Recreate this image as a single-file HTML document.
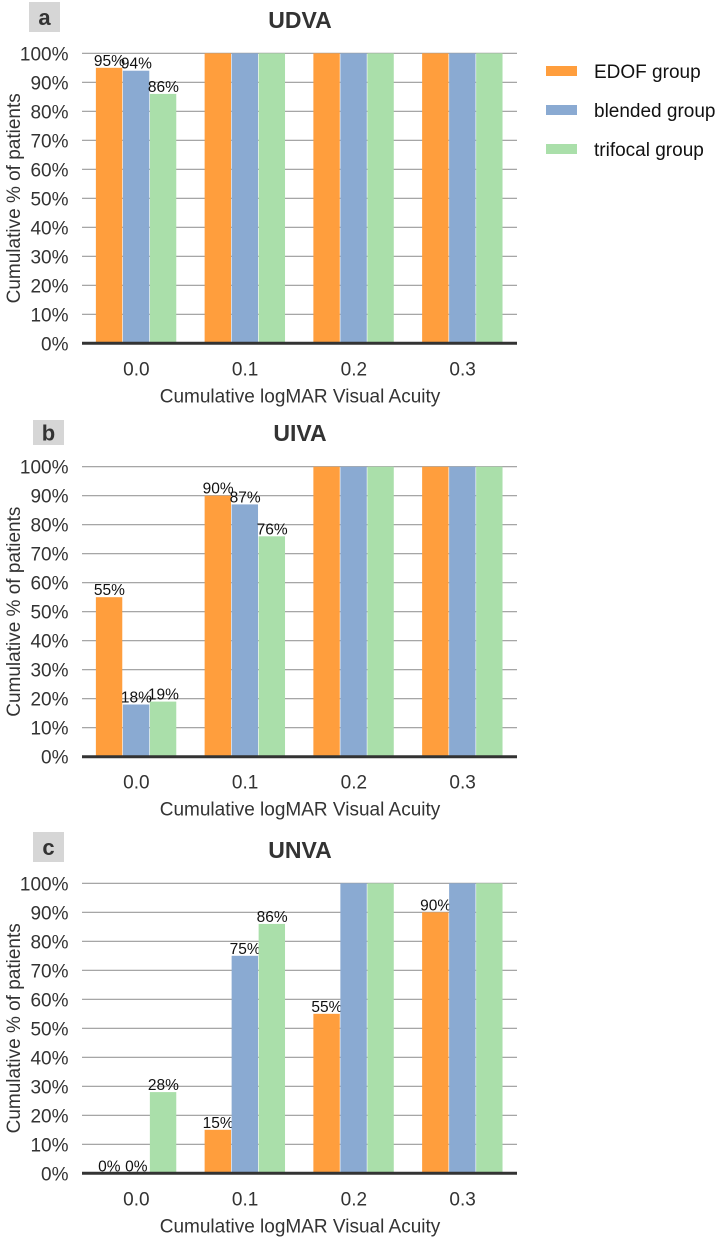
<!DOCTYPE html>
<html><head><meta charset="utf-8"><style>
body{margin:0;background:#fff;width:719px;height:1240px;overflow:hidden;font-family:"Liberation Sans",sans-serif}
</style></head><body>
<svg id="svg" width="719" height="1240" xmlns="http://www.w3.org/2000/svg" font-family="Liberation Sans, sans-serif">
<g>
<rect x="546" y="66" width="31" height="10" fill="#FF9E3D"/>
<text x="594" y="78" font-size="19" fill="#111">EDOF group</text>
<rect x="546" y="105" width="31" height="10" fill="#8AAAD2"/>
<text x="594" y="117" font-size="19" fill="#111">blended group</text>
<rect x="546" y="144" width="31" height="10" fill="#AADFAA"/>
<text x="594" y="156" font-size="19" fill="#111">trifocal group</text>
</g>
</svg>
<script>
const categories=["0.0","0.1","0.2","0.3"];
const seriesNames=["EDOF group","blended group","trifocal group"];
const udvaEdof=[95,100,100,100];
const udvaBlended=[94,100,100,100];
const udvaTrifocal=[86,100,100,100];
const uivaEdof=[55,90,100,100];
const uivaBlended=[18,87,100,100];
const uivaTrifocal=[19,76,100,100];
const unvaEdof=[0,15,55,90];
const unvaBlended=[0,75,100,100];
const unvaTrifocal=[28,86,100,100];
const yTicks=[0,10,20,30,40,50,60,70,80,90,100];
const colors=["#FF9E3D","#8AAAD2","#AADFAA"];
const NS="http://www.w3.org/2000/svg";
const svg=document.getElementById('svg');
function mk(tag,attrs,parent,text){const e=document.createElementNS(NS,tag);for(const k in attrs)e.setAttribute(k,attrs[k]);if(text!==undefined)e.textContent=text;(parent||svg).appendChild(e);return e;}
const panels=[
 {id:"a",title:"UDVA",top:53.3,bottom:343.3,box:[29,2,31,30],titleY:28,data:[udvaEdof,udvaBlended,udvaTrifocal]},
 {id:"b",title:"UIVA",top:466.7,bottom:756.7,box:[33,420,31,25],titleY:441,data:[uivaEdof,uivaBlended,uivaTrifocal]},
 {id:"c",title:"UNVA",top:883.3,bottom:1173.3,box:[33,832,31,30],titleY:858,data:[unvaEdof,unvaBlended,unvaTrifocal]}
];
const L=82,R=517,catW=(R-L)/categories.length,barW=27;
panels.forEach(p=>{
 const g=mk('g',{});
 
 
 const y=v=>p.bottom-(v/100)*(p.bottom-p.top);
 const x=(ci,si)=>L+catW*ci+catW/2-1.5*barW+si*barW;
 const bx=mk('rect',{x:p.box[0],y:p.box[1],width:p.box[2],height:p.box[3],fill:'#d6d6d6'},g);
 
 
 const bt=mk('text',{x:p.box[0]+p.box[2]/2,y:p.box[1]+p.box[3]/2+8,'font-size':22,'font-weight':'bold','text-anchor':'middle',fill:'#333'},g,p.id);
 
 
 const tt=mk('text',{x:300,y:p.titleY,'font-size':23,'font-weight':'bold','text-anchor':'middle',fill:'#333'},g,p.title);
 
 
 yTicks.forEach(t=>{
  if(t>0){const gl=mk('line',{x1:L,x2:R,y1:y(t),y2:y(t),stroke:'#999','stroke-width':1.2},g);
  
  }
  const tl=mk('text',{x:68.5,y:y(t)+7,'font-size':19,'text-anchor':'end',fill:'#333'},g,t+'%');
  
  
 });
 p.data.forEach((vals,si)=>{
  vals.forEach((v,ci)=>{
   const r=mk('rect',{x:x(ci,si),y:y(v),width:barW-0.6,height:p.bottom-y(v),fill:colors[si]},g);
   
   
   if(v<100){
    const lt=mk('text',{x:x(ci,si)+barW/2,y:y(v)-2,'font-size':15.5,'text-anchor':'middle',fill:'#111'},g,v+'%');
    
    
   }
  });
 });
 const ax=mk('line',{x1:L,x2:R,y1:p.bottom,y2:p.bottom,stroke:'#333','stroke-width':3},g);
 
 
 categories.forEach((c,ci)=>{
  const xl=mk('text',{x:L+catW*ci+catW/2,y:p.bottom+32,'font-size':19,'text-anchor':'middle',fill:'#333'},g,c);
  
  
 });
 const xt=mk('text',{x:300,y:p.bottom+59,'font-size':19,'text-anchor':'middle',fill:'#333'},g,'Cumulative logMAR Visual Acuity');
 
 
 const cy=(p.top+p.bottom)/2;
 const yt=mk('text',{x:0,y:0,'font-size':19,'text-anchor':'middle',fill:'#333',transform:`translate(20,${cy}) rotate(-90)`},g,'Cumulative % of patients');
 
 
});
</script>
</body></html>
